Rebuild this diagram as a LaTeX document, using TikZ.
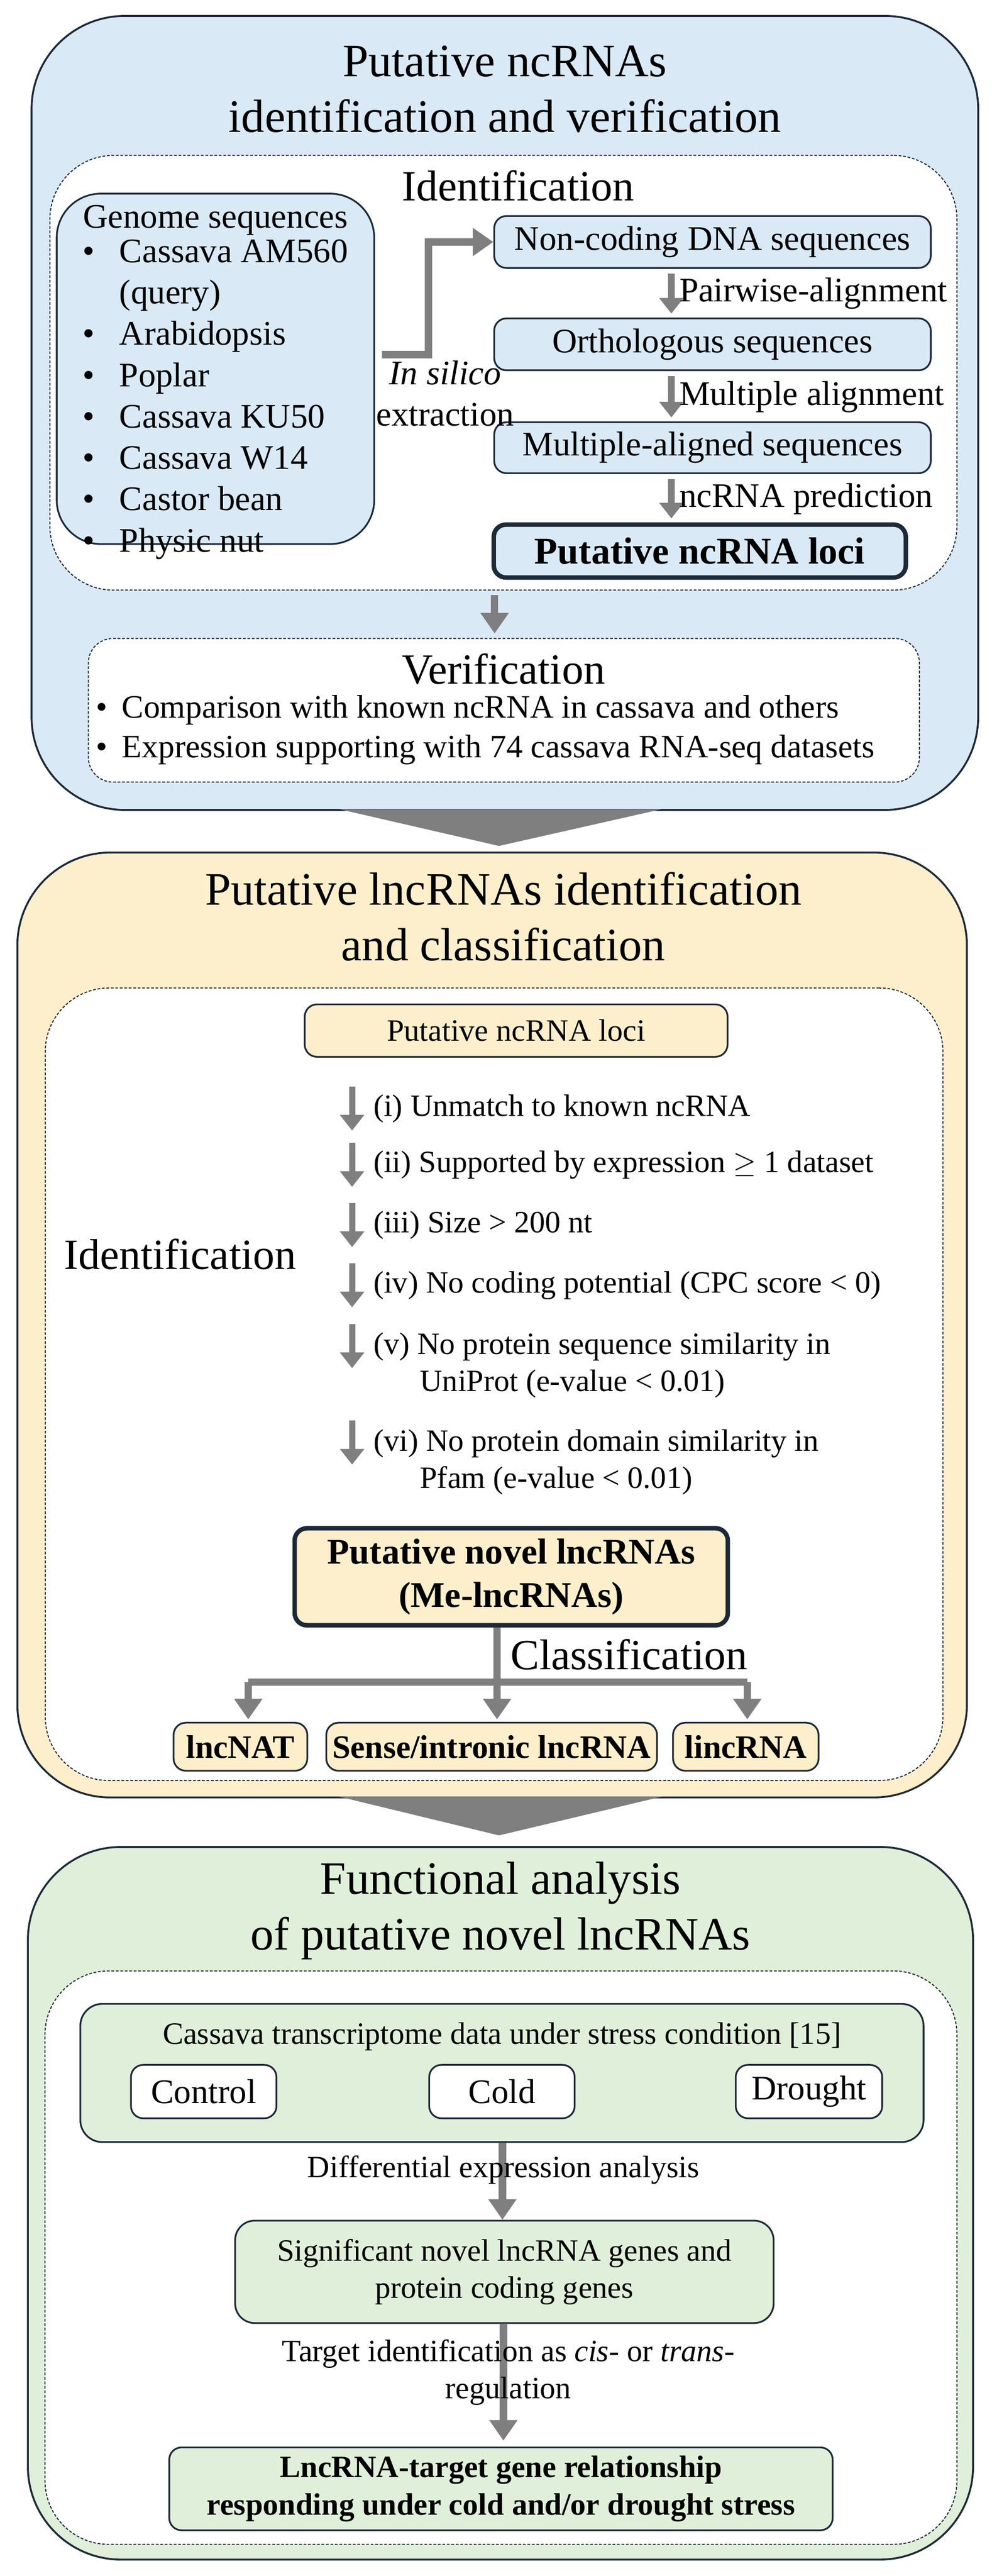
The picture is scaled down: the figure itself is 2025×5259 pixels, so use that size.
\documentclass[tikz,border=0pt]{standalone}
\usepackage{fontspec}
\setmainfont{Liberation Serif}
\usetikzlibrary{arrows.meta}
\definecolor{edge}{HTML}{1E2A38}
\definecolor{bluef}{HTML}{DAE9F6}
\definecolor{yelf}{HTML}{FDEFCB}
\definecolor{grnf}{HTML}{E0EFDA}
\definecolor{arr}{HTML}{7F7F7F}
\newcommand{\fs}[1]{\fontsize{#1}{1.2\dimexpr #1pt\relax}\selectfont}
\begin{document}
\begin{tikzpicture}[x=0.01cm, y=-0.01cm,
  panel/.style={draw=edge, line width=1.1pt, rounded corners=1.9cm},
  dbox/.style={draw=edge, fill=white, line width=0.6pt, dash pattern=on 1.6pt off 1pt, rounded corners=1.3cm},
  box/.style={draw=edge, line width=1pt, rounded corners=0.25cm, inner sep=0pt, align=center},
  txt/.style={inner sep=0pt, align=center},
  bigarrow/.style={draw=arr, line width=4.3pt, -{Triangle[length=0.42cm,width=0.55cm]}},
  smarrow/.style={draw=arr, line width=3.6pt, -{Triangle[length=0.32cm,width=0.48cm]}},
  trap/.style={fill=arr}
]
\useasboundingbox (0,0) rectangle (2025,5259);

% ---------------- Top panel
\node[panel, fill=bluef, minimum width=19.32cm, minimum height=16.2cm] (p1) at (1031,843) {};
\node[txt, font=\fs{27}] (t1) at (1031,182) {Putative ncRNAs\\identification and verification};
\node[dbox, minimum width=18.51cm, minimum height=8.87cm] (d1) at (1028,761) {};
\node[txt, font=\fs{25}] (h1) at (1058,379) {Identification};
\node[box, fill=bluef, rounded corners=0.9cm, minimum width=6.48cm, minimum height=7.15cm] (genome) at (440,753) {};
\node[txt, font=\fs{20}, anchor=north] (glist) at (440,418) {Genome sequences\\[-2pt]
  \begin{tabular}{@{}l@{\hspace{0.5cm}}l@{}}
  \textbullet & Cassava AM560\\ & (query)\\ \textbullet & Arabidopsis\\ \textbullet & Poplar\\
  \textbullet & Cassava KU50\\ \textbullet & Cassava W14\\ \textbullet & Castor bean\\ \textbullet & Physic nut
  \end{tabular}};
\node[box, fill=bluef, minimum width=8.91cm, minimum height=1.06cm, font=\fs{20}] (noncod) at (1455,494) {Non-coding DNA sequences};
\node[box, fill=bluef, minimum width=8.91cm, minimum height=1.06cm, font=\fs{20}] (ortho) at (1455,703) {Orthologous sequences};
\node[box, fill=bluef, minimum width=8.91cm, minimum height=1.04cm, font=\fs{20}] (multi) at (1455,914) {Multiple-aligned sequences};
\node[box, fill=bluef, line width=2.6pt, minimum width=8.41cm, minimum height=1.08cm, font=\fs{22}\bfseries] (loci) at (1429,1125) {Putative ncRNA loci};
\node[txt, font=\fs{20}] (silico) at (909,803) {\textit{In silico}\\extraction};
\draw[bigarrow] ([xshift=0.14cm,yshift=0.29cm]genome.east) -- (875,724) |- (noncod.west);
\draw[smarrow] ([yshift=-0.1cm]noncod.south -| 1371,0) -- node[right=0.1cm, txt, font=\fs{20}] (l1) {Pairwise-alignment} ([yshift=0.08cm]ortho.north -| 1371,0);
\draw[smarrow] ([yshift=-0.1cm]ortho.south -| 1371,0) -- node[right=0.1cm, txt, font=\fs{20}] (l2) {Multiple alignment} ([yshift=0.08cm]multi.north -| 1371,0);
\draw[smarrow] ([yshift=-0.1cm]multi.south -| 1371,0) -- node[right=0.1cm, txt, font=\fs{20}] (l3) {ncRNA prediction} ([yshift=0.08cm]loci.north -| 1371,0);
\node[dbox, rounded corners=0.5cm, minimum width=16.96cm, minimum height=2.93cm] (verif) at (1029,1450) {};
\draw[bigarrow] ([yshift=-0.09cm]d1.south -| 1010,0) -- ([yshift=0.09cm]verif.north -| 1010,0);
\node[txt, font=\fs{25}] (vh) at (1028,1366) {Verification};
\node[txt, font=\fs{19}, anchor=west] (vl) at (195,1490) {\begin{tabular}{@{}l@{\hspace{0.3cm}}l@{}}
  \textbullet & Comparison with known ncRNA in cassava and others\\
  \textbullet & Expression supporting with 74 cassava RNA-seq datasets\end{tabular}};
\fill[trap] (693,1652) -- (1351,1652) -- (1019,1727) -- cycle;

% ---------------- Middle panel
\node[panel, fill=yelf, minimum width=19.38cm, minimum height=19.28cm] (p2) at (1005,2705) {};
\node[txt, font=\fs{27}] (t2) at (1028,1871) {Putative lncRNAs identification\\and classification};
\node[dbox, minimum width=18.32cm, minimum height=16.17cm] (d2) at (1009,2826) {};
\node[box, fill=yelf, minimum width=8.63cm, minimum height=1.07cm, font=\fs{18}] (loci2) at (1054,2104) {Putative ncRNA loci};
\node[txt, font=\fs{25}] (h2) at (368,2561) {Identification};
\foreach \yy/\tt in {2263/{(i) Unmatch to known ncRNA},
                     2378/{(ii) Supported by expression $\geq$ 1 dataset},
                     2501/{(iii) Size > 200 nt},
                     2624/{(iv) No coding potential (CPC score < 0)}}{
  \draw[smarrow] (719,\yy-45) -- (719,\yy+45);
  \node[txt, font=\fs{18}, anchor=west] at (762,\yy) {\tt};
}
\draw[smarrow] (719,2703) -- (719,2793);
\node[txt, font=\fs{18}, anchor=north west, align=left] (cv) at (762,2720) {(v) No protein sequence similarity in\\\hspace*{0.95cm}UniProt (e-value < 0.01)};
\draw[smarrow] (719,2900) -- (719,2990);
\node[txt, font=\fs{18}, anchor=north west, align=left] (cvi) at (762,2918) {(vi) No protein domain similarity in\\\hspace*{0.95cm}Pfam (e-value < 0.01)};
\node[box, fill=yelf, line width=2.6pt, minimum width=8.84cm, minimum height=1.98cm, font=\fs{21}\bfseries] (novel) at (1044,3219) {Putative novel lncRNAs\\(Me-lncRNAs)};
\node[box, fill=yelf, minimum width=2.73cm, minimum height=0.98cm, font=\fs{19}\bfseries] (nat) at (491,3566) {lncNAT};
\node[box, fill=yelf, minimum width=6.75cm, minimum height=0.98cm, font=\fs{19}\bfseries] (sense) at (1004,3566) {Sense/intronic lncRNA};
\node[box, fill=yelf, minimum width=2.97cm, minimum height=0.98cm, font=\fs{19}\bfseries] (linc) at (1523,3566) {lincRNA};
\coordinate (split) at (1015,3434);
\node[txt, font=\fs{25}, anchor=west] (cls) at (1042,3378) {Classification};
\draw[draw=arr, line width=4.3pt] (novel.south -| split) -- (split);
\draw[draw=arr, line width=4.3pt] (507,3434) -- (1526,3434);
\draw[bigarrow] (507,3434) -- ([yshift=0.05cm]nat.north -| 507,0);
\draw[bigarrow] (split) -- ([yshift=0.05cm]sense.north -| split);
\draw[bigarrow] (1526,3434) -- ([yshift=0.05cm]linc.north -| 1526,0);
\fill[trap] (693,3668) -- (1351,3668) -- (1019,3747) -- cycle;

% ---------------- Bottom panel
\node[panel, fill=grnf, minimum width=19.29cm, minimum height=14.54cm] (p3) at (1022,4498) {};
\node[txt, font=\fs{27}] (t3) at (1022,3901) {Functional analysis\\of putative novel lncRNAs};
\node[dbox, minimum width=18.61cm, minimum height=11.7cm] (d3) at (1023,4609) {};
\node[box, fill=grnf, rounded corners=0.45cm, minimum width=17.21cm, minimum height=2.82cm] (data) at (1025,4232) {};
\node[txt, font=\fs{18}] (datat) at (1025,4158) {Cassava transcriptome data under stress condition [15]};
\node[box, fill=white, minimum width=2.97cm, minimum height=1.09cm, font=\fs{20}] (ctrl) at (416,4270) {Control};
\node[box, fill=white, minimum width=2.97cm, minimum height=1.09cm, font=\fs{20}] (cold) at (1025,4270) {Cold};
\node[box, fill=white, minimum width=2.99cm, minimum height=1.09cm, font=\fs{20}] (drought) at (1652,4270) {Drought};
\node[box, fill=grnf, rounded corners=0.4cm, minimum width=10.99cm, minimum height=2.09cm, font=\fs{18}] (sig) at (1030,4638) {Significant novel lncRNA genes and\\protein coding genes};
\node[box, fill=grnf, minimum width=13.54cm, minimum height=1.69cm, font=\fs{18}\bfseries] (final) at (1023,5081) {LncRNA-target gene relationship\\responding under cold and/or drought stress};
\draw[bigarrow] (data.south -| 1026,0) -- (sig.north -| 1026,0);
\draw[bigarrow] (sig.south -| 1028,0) -- ([yshift=0.12cm]final.north -| 1028,0);
\node[txt, font=\fs{18}] (dea) at (1028,4430) {Differential expression analysis};
\node[txt, font=\fs{18}] (tid) at (1038,4843) {Target identification as \textit{cis}- or \textit{trans}-\\regulation};
\end{tikzpicture}
\end{document}
